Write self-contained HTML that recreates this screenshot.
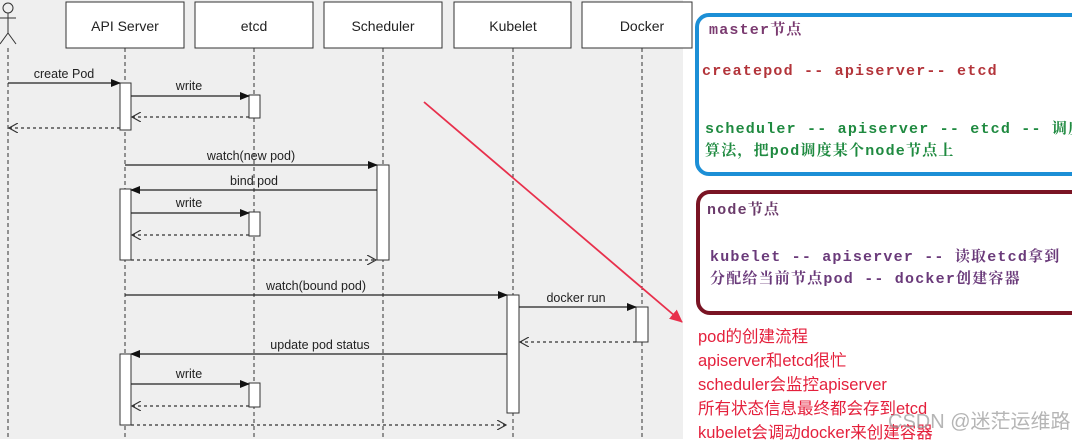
<!DOCTYPE html>
<html><head><meta charset="utf-8"><style>
body{margin:0;width:1072px;height:439px;overflow:hidden;background:#fff;position:relative;font-family:"Liberation Sans","Noto Sans CJK SC",sans-serif}
svg{position:absolute;left:0;top:0}
.t{position:absolute;font-family:"Liberation Mono","Noto Serif CJK SC",monospace;font-size:15px;letter-spacing:1.2px;white-space:nowrap;font-weight:bold}
.r{position:absolute;left:698px;font-family:"Liberation Sans","Noto Sans CJK SC",sans-serif;font-size:16.5px;color:#e4203c;white-space:nowrap}
</style></head><body>
<svg width="1072" height="439" viewBox="0 0 1072 439">
<defs>
<marker id="f" markerWidth="10" markerHeight="8" refX="9" refY="4" orient="auto" markerUnits="userSpaceOnUse"><path d="M0,0 L10,4 L0,8z" fill="#111"/></marker>
<marker id="o" markerWidth="10" markerHeight="10" refX="9" refY="5" orient="auto" markerUnits="userSpaceOnUse"><path d="M0,0 L9,5 L0,10" fill="none" stroke="#333" stroke-width="1.2"/></marker>
<marker id="rr" markerWidth="14" markerHeight="12" refX="12" refY="6" orient="auto" markerUnits="userSpaceOnUse"><path d="M0,0 L13,6 L0,12z" fill="#e8304c"/></marker>
</defs>
<rect x="0" y="0" width="683" height="439" fill="#efefef"/>
<g stroke="#333" stroke-width="1" stroke-dasharray="4,3">
<line x1="8" y1="48" x2="8" y2="439"/><line x1="125" y1="48" x2="125" y2="439"/><line x1="254" y1="48" x2="254" y2="439"/><line x1="383" y1="48" x2="383" y2="439"/><line x1="513" y1="48" x2="513" y2="439"/><line x1="642" y1="48" x2="642" y2="439"/>
</g>
<g fill="#fff" stroke="#333" stroke-width="1">
<rect x="66" y="2" width="118" height="46"/><rect x="195" y="2" width="118" height="46"/><rect x="324" y="2" width="118" height="46"/><rect x="454" y="2" width="117" height="46"/><rect x="582" y="2" width="110" height="46"/>
</g>
<g stroke="#333" fill="none" stroke-width="1"><circle cx="8" cy="8" r="5"/><line x1="8" y1="13" x2="8" y2="33"/><line x1="0" y1="18" x2="16" y2="18"/><line x1="8" y1="33" x2="0" y2="44"/><line x1="8" y1="33" x2="16" y2="44"/></g>
<g font-family="Liberation Sans,sans-serif" font-size="14" fill="#222" text-anchor="middle">
<text x="125" y="31">API Server</text><text x="254" y="31">etcd</text><text x="383" y="31">Scheduler</text><text x="513" y="31">Kubelet</text><text x="642" y="31">Docker</text>
</g>
<g fill="#fff" stroke="#333" stroke-width="1">
<rect x="120" y="83" width="11" height="47"/><rect x="249" y="95" width="11" height="23"/>
<rect x="377" y="165" width="12" height="95"/><rect x="120" y="189" width="11" height="71"/><rect x="249" y="212" width="11" height="24"/>
<rect x="507" y="295" width="12" height="118"/><rect x="636" y="307" width="12" height="35"/>
<rect x="120" y="354" width="11" height="71"/><rect x="249" y="383" width="11" height="24"/>
</g>
<g stroke="#222" stroke-width="1.2">
<line x1="8" y1="83" x2="120" y2="83" marker-end="url(#f)"/>
<line x1="131" y1="96" x2="249" y2="96" marker-end="url(#f)"/>
<line x1="125" y1="165" x2="377" y2="165" marker-end="url(#f)"/>
<line x1="377" y1="190" x2="131" y2="190" marker-end="url(#f)"/>
<line x1="131" y1="213" x2="249" y2="213" marker-end="url(#f)"/>
<line x1="125" y1="295" x2="507" y2="295" marker-end="url(#f)"/>
<line x1="519" y1="307" x2="636" y2="307" marker-end="url(#f)"/>
<line x1="507" y1="354" x2="131" y2="354" marker-end="url(#f)"/>
<line x1="131" y1="384" x2="249" y2="384" marker-end="url(#f)"/>
</g>
<g stroke="#333" stroke-width="1.2" stroke-dasharray="3,3">
<line x1="249" y1="117" x2="132" y2="117" marker-end="url(#o)"/>
<line x1="120" y1="128" x2="9" y2="128" marker-end="url(#o)"/>
<line x1="249" y1="235" x2="132" y2="235" marker-end="url(#o)"/>
<line x1="131" y1="260" x2="376" y2="260" marker-end="url(#o)"/>
<line x1="636" y1="342" x2="520" y2="342" marker-end="url(#o)"/>
<line x1="249" y1="406" x2="132" y2="406" marker-end="url(#o)"/>
<line x1="131" y1="425" x2="506" y2="425" marker-end="url(#o)"/>
</g>
<g font-family="Liberation Sans,sans-serif" font-size="12.5" fill="#222" text-anchor="middle">
<text x="64" y="78">create Pod</text><text x="189" y="90">write</text><text x="251" y="160">watch(new pod)</text><text x="254" y="185">bind pod</text><text x="189" y="207">write</text>
<text x="316" y="290">watch(bound pod)</text><text x="576" y="302">docker run</text><text x="320" y="349">update pod status</text><text x="189" y="378">write</text>
</g>
<line x1="424" y1="102" x2="682" y2="322" stroke="#e8304c" stroke-width="1.8" marker-end="url(#rr)"/>
<rect x="697" y="15" width="390" height="159" rx="12" fill="none" stroke="#1c8fd6" stroke-width="4"/>
<rect x="698" y="192" width="390" height="121" rx="12" fill="none" stroke="#7a1424" stroke-width="4"/>
</svg>
<div class="t" style="left:709px;top:18px;color:#7a3a70">master节点</div>
<div class="t" style="left:702px;top:63px;color:#b3343a">createpod -- apiserver-- etcd</div>
<div class="t" style="left:705px;top:117px;color:#1f8a40">scheduler -- apiserver -- etcd -- 调度</div>
<div class="t" style="left:705px;top:139px;color:#1f8a40">算法，把pod调度某个node节点上</div>
<div class="t" style="left:707px;top:198px;color:#6a3a6a">node节点</div>
<div class="t" style="left:710px;top:245px;color:#6a3a7a">kubelet -- apiserver -- 读取etcd拿到</div>
<div class="t" style="left:710px;top:267px;color:#6a3a7a">分配给当前节点pod -- docker创建容器</div>
<div class="r" style="top:323px">pod的创建流程</div>
<div class="r" style="top:347px">apiserver和etcd很忙</div>
<div class="r" style="top:371px">scheduler会监控apiserver</div>
<div class="r" style="top:395px">所有状态信息最终都会存到etcd</div>
<div class="r" style="top:419px">kubelet会调动docker来创建容器</div>
<div style="position:absolute;left:888px;top:405px;font-size:20px;color:rgba(150,150,150,0.7);white-space:nowrap">CSDN @迷茫运维路</div>
</body></html>
